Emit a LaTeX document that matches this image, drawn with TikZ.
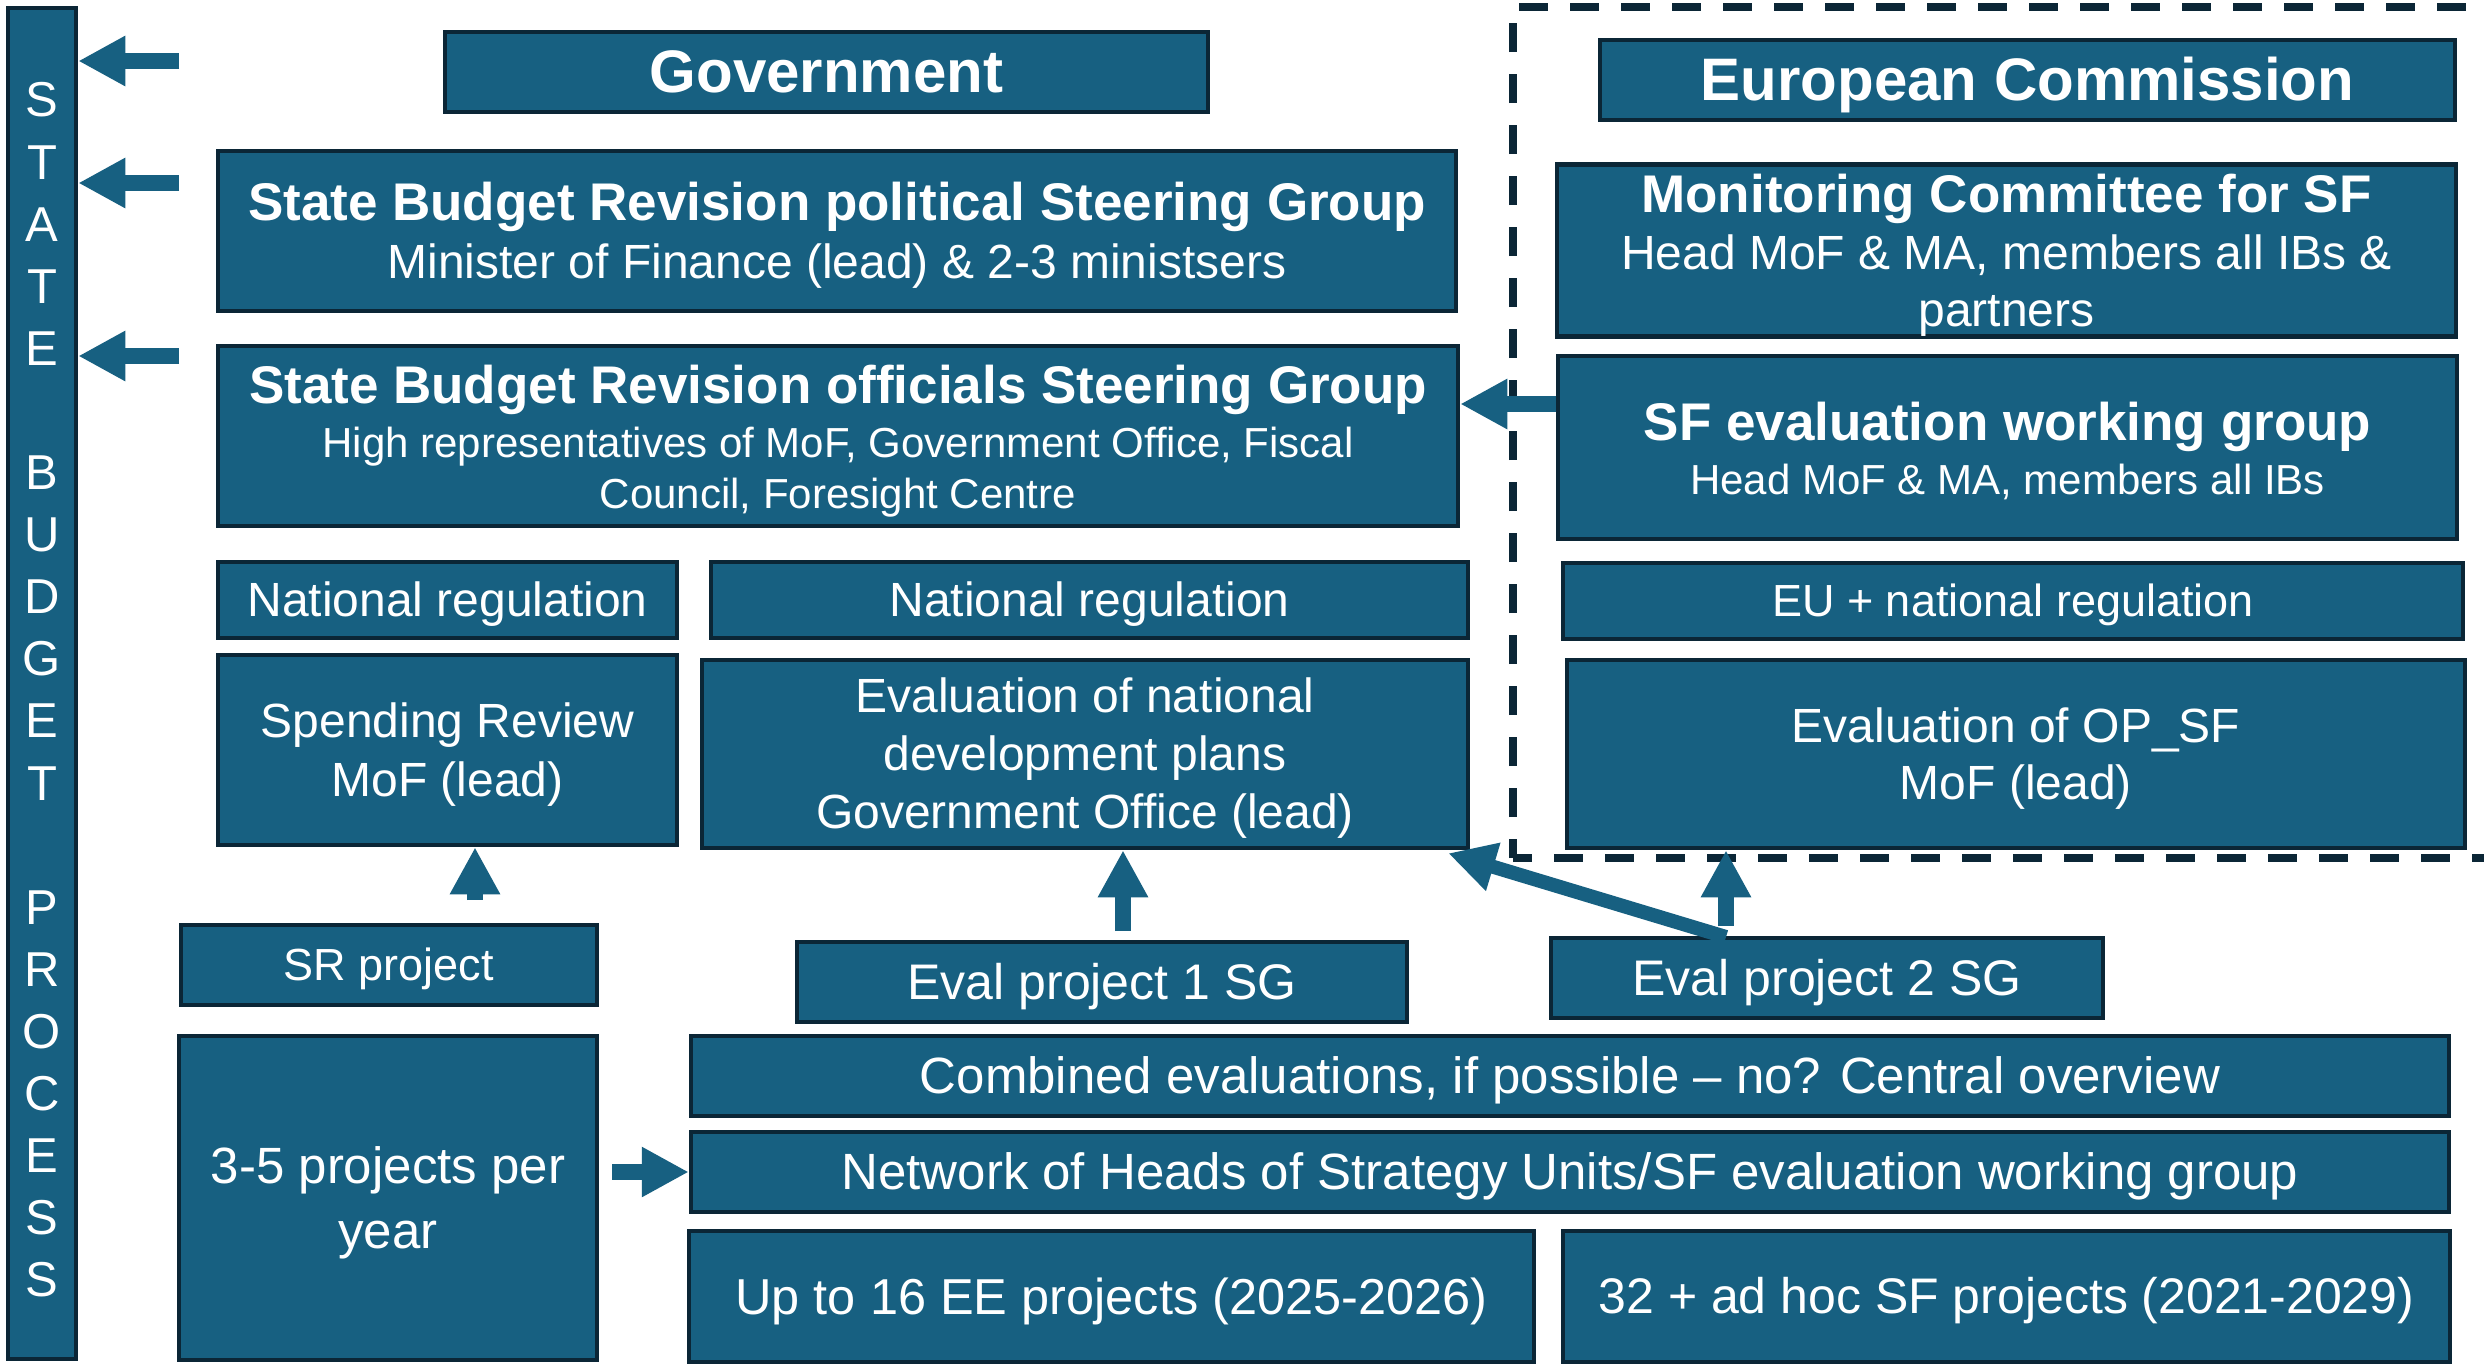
\documentclass[tikz,border=0pt]{standalone}
\usepackage{fontspec}
\setmainfont{Liberation Sans}
\usetikzlibrary{arrows.meta,calc}
\definecolor{bblue}{RGB}{23,96,129}
\definecolor{bdark}{RGB}{11,38,54}
\newcommand\ps{\rule[-0.212em]{0pt}{1.117em}}
\newcommand\fs[2]{\fontsize{#1}{#2}\selectfont}
\newcommand\bx[7]{\node[box,#6,minimum width={#4-#2},minimum height={#5-#3}] (#1) at ({(#2+#4)/2},{(#3+#5)/2}) {#7};}
\begin{document}
\begin{tikzpicture}[x=1pt,y=-1pt,
  box/.style={draw=bdark, fill=bblue, line width=4.5pt, text=white, inner sep=0pt, align=center},
  blk/.style={draw=bblue, line width=16pt, -{Triangle[length=47pt,width=47pt]}},
  dline/.style={draw=bdark, line width=8pt, dash pattern=on 29pt off 22pt}]
\useasboundingbox[fill=white] (0,0) rectangle (2484,1363);

% dashed EU frame
\draw[dline, dash phase=10pt] (1513,858) -- (1513,7) -- (2500,7);
\draw[dline, dash phase=10pt] (1513,858) -- (2500,858);

% left bar
\bx{sbp}{8}{8}{76}{1359}{}{}
\node[text=white, inner sep=0pt, align=center, font=\fs{49}{62.1}] (sbptext) at (42,690)
  {S\\T\\A\\T\\E\\[62.1pt]B\\U\\D\\G\\E\\T\\[62.1pt]P\\R\\O\\C\\E\\S\\S};

% government side
\bx{gov}{445}{32}{1208}{112}{font=\fs{60}{72}\bfseries}{\ps Government}
\bx{polsg}{218}{151}{1456}{311}{font=\fs{48}{58}}{{\fs{53}{58}\bfseries\ps State Budget Revision political Steering Group}\\Minister of Finance (lead) \& 2-3 ministsers\ps}
\bx{offsg}{218}{346}{1458}{526}{font=\fs{42}{51}}{{\fs{53}{58}\bfseries\ps State Budget Revision officials Steering Group}\\[3pt]High representatives of MoF, Government Office, Fiscal\\Council, Foresight Centre\ps}
\bx{natreg1}{218}{562}{677}{638}{font=\fs{48}{58}}{\ps National regulation}
\bx{natreg2}{711}{562}{1468}{638}{font=\fs{48}{58}}{\ps National regulation}
\bx{spend}{218}{655}{677}{845}{font=\fs{48}{59}}{\ps Spending Review\\MoF (lead)\ps}
\bx{evalnat}{702}{660}{1468}{848}{font=\fs{48}{58}}{\ps Evaluation of national\\development plans\\Government Office (lead)\ps}
\bx{srproj}{181}{925}{597}{1005}{font=\fs{45}{54}}{\ps SR project}
\bx{evalp1}{797}{942}{1407}{1022}{font=\fs{50}{60}}{\ps Eval project 1 SG}
\bx{evalp2}{1551}{938}{2103}{1018}{font=\fs{50}{60}}{\ps Eval project 2 SG}
\bx{combined}{691}{1036}{2449}{1116}{font=\fs{51}{60}}{\ps Combined evaluations, if possible – no? Central overview}
\bx{network}{691}{1132}{2449}{1212}{font=\fs{51}{60}}{\ps Network of Heads of Strategy Units/SF evaluation working group}
\bx{three5}{179}{1036}{597}{1360}{font=\fs{51}{65}}{\ps 3-5 projects per\\year\ps}
\bx{upto}{689}{1231}{1534}{1362}{font=\fs{50.5}{60}}{\ps Up to 16 EE projects (2025-2026)}
\bx{sfproj}{1563}{1231}{2450}{1362}{font=\fs{50}{60}}{\ps 32 + ad hoc SF projects (2021-2029)}

% EU side
\bx{ec}{1600}{40}{2455}{120}{font=\fs{60}{72}\bfseries}{\ps European Commission}
\bx{mc}{1557}{165}{2456}{336}{font=\fs{48}{57}}{{\fs{53}{58}\bfseries\ps Monitoring Committee for SF}\\Head MoF \& MA, members all IBs \&\\partners\ps}
\bx{sfwg}{1558}{356}{2457}{539}{font=\fs{42}{54}}{{\fs{53}{58}\bfseries\ps SF evaluation working group}\\Head MoF \& MA, members all IBs\ps}
\bx{eureg}{1563}{563}{2463}{639}{font=\fs{45}{54}}{\ps EU + national regulation}
\bx{opsf}{1567}{660}{2465}{848}{font=\fs{48}{57}}{\ps Evaluation of OP\_SF\\MoF (lead)\ps}

% connectors
\coordinate (t1) at (179,61);
\coordinate (t2) at (179,183);
\coordinate (t3) at (179,356);
\draw[blk] (t1) -- (t1 -| sbp.east);
\draw[blk] (t2) -- (t2 -| sbp.east);
\draw[blk] (t3) -- (t3 -| sbp.east);
\coordinate (t4) at (475,900);
\draw[blk] (t4) -- (t4 |- spend.south);
\coordinate (t5) at (1123,931);
\draw[blk] (t5) -- (t5 |- evalnat.south);
\coordinate (t6) at (1726,926);
\draw[blk] (t6) -- (t6 |- opsf.south);
\coordinate (t7) at (1726,937);
\draw[blk, line width=14pt] (t7) -- ($(evalnat.south east)+(-22,3)$);
\coordinate (t8) at (612,1172);
\draw[blk] (t8) -- (t8 -| network.west);
\coordinate (t9) at (1556,404);
\draw[blk] (t9) -- (t9 -| offsg.east);
\end{tikzpicture}
\end{document}
